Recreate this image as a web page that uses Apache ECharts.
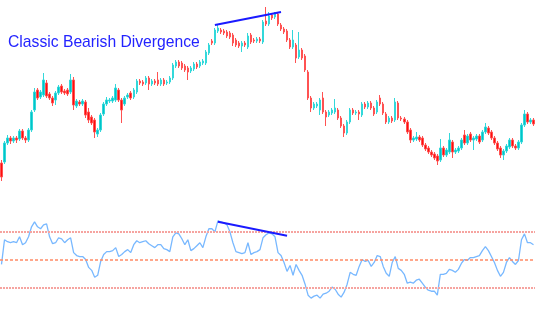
<!DOCTYPE html>
<html lang="en">
  <head>
    <meta charset="UTF-8" />
    <title>Classic Bearish Divergence</title>
    <style>
      * {
        margin: 0;
        padding: 0;
        box-sizing: border-box;
      }
      #main {
        width: 537px;
        height: 330px;
        background-color: #ffffff;
      }
    </style>
  </head>
  <body>
    <div id="main"></div>
    <script src="https://cdn.jsdelivr.net/npm/echarts@6/dist/echarts.min.js"></script>
    <script>
      const myChart = echarts.init(document.getElementById("main"));

      // candles: [open, close, low, high]
      const ohlc = [
        [37, 23, 19, 40], [38, 57, 36, 59], [57, 62, 55, 65], [62, 59, 56, 64], [59, 62, 57, 64],
        [62, 60, 57, 64], [61, 69, 59, 71], [69, 62, 60, 71], [62, 60, 57, 64], [60, 70, 58, 72],
        [70, 88, 68, 90], [90, 108, 88, 112], [110, 102, 100, 112], [103, 108, 101, 110], [105, 120, 103, 127],
        [117, 104, 102, 120], [106, 102, 100, 108], [102, 97, 94, 104], [100, 107, 95, 109], [107, 113, 105, 115],
        [114, 108, 106, 116], [109, 107, 105, 111], [110, 106, 104, 112], [108, 120, 106, 126], [120, 95, 90, 123],
        [94, 99, 92, 101], [98, 96, 94, 100], [96, 99, 94, 101], [98, 85, 82, 100], [88, 80, 77, 92],
        [83, 77, 75, 85], [80, 68, 62, 82], [66, 70, 63, 72], [70, 85, 68, 87], [86, 96, 84, 98],
        [96, 100, 94, 103], [99, 100, 97, 102], [99, 102, 97, 104], [100, 112, 98, 116], [110, 100, 98, 112],
        [100, 90, 77, 102], [96, 102, 94, 104], [103, 105, 101, 107], [107, 102, 100, 109], [103, 110, 101, 112],
        [108, 119, 106, 121], [119, 117, 115, 121], [118, 116, 114, 120], [117, 122, 115, 124], [122, 116, 110, 124],
        [116, 119, 114, 121], [119, 117, 115, 121], [120, 116, 114, 128], [116, 120, 114, 122], [120, 116, 114, 122],
        [117, 118, 115, 120], [118, 122, 116, 124], [122, 135, 120, 137], [134, 138, 132, 140], [138, 134, 132, 140],
        [137, 132, 130, 139], [134, 130, 128, 136], [132, 128, 120, 134], [129, 132, 127, 134], [131, 136, 129, 138],
        [136, 133, 131, 138], [134, 138, 132, 140], [137, 139, 135, 141], [137, 148, 135, 150], [147, 155, 145, 157],
        [159, 157, 155, 161], [157, 170, 155, 172], [169, 172, 167, 175], [170, 168, 166, 172], [169, 167, 165, 171],
        [168, 164, 162, 170], [167, 163, 161, 169], [165, 157, 154, 167], [160, 155, 153, 162], [157, 154, 152, 159],
        [154, 157, 148, 159], [157, 155, 153, 159], [153, 164, 151, 167], [165, 158, 156, 167], [160, 159, 157, 162],
        [159, 161, 157, 163], [161, 159, 157, 163], [158, 178, 156, 180], [179, 176, 174, 193], [176, 184, 174, 188],
        [185, 182, 180, 187], [183, 186, 181, 188], [186, 176, 174, 188], [175, 171, 169, 177], [171, 168, 166, 173],
        [169, 160, 158, 171], [160, 153, 151, 162], [153, 160, 151, 170], [155, 142, 137, 157], [143, 150, 141, 168],
        [150, 142, 140, 152], [144, 130, 128, 146], [128, 102, 100, 130], [102, 92, 88, 104], [92, 96, 90, 98],
        [94, 96, 92, 98], [90, 100, 85, 102], [102, 88, 86, 108], [88, 83, 74, 90], [85, 88, 83, 90],
        [87, 90, 85, 92], [88, 92, 86, 101], [90, 82, 80, 92], [82, 74, 72, 84], [74, 67, 63, 76],
        [67, 78, 65, 80], [78, 90, 76, 92], [90, 87, 85, 92], [87, 88, 85, 90], [88, 86, 80, 90],
        [85, 96, 83, 98], [96, 93, 91, 98], [93, 97, 91, 99], [97, 92, 90, 99], [92, 86, 84, 94],
        [88, 98, 86, 100], [102, 96, 94, 105], [96, 87, 85, 98], [86, 78, 76, 88], [78, 82, 76, 84],
        [82, 79, 77, 84], [80, 98, 78, 102], [97, 82, 80, 99], [82, 81, 79, 84], [81, 78, 76, 83],
        [78, 68, 66, 80], [70, 60, 57, 72], [60, 62, 58, 64], [61, 63, 59, 68], [63, 60, 58, 65],
        [62, 55, 53, 64], [55, 51, 49, 57], [52, 48, 46, 54], [48, 45, 43, 50], [46, 42, 40, 48],
        [44, 39, 35, 46], [40, 52, 38, 61], [52, 45, 43, 54], [45, 50, 43, 52], [48, 60, 46, 67],
        [58, 48, 42, 60], [48, 50, 46, 52], [49, 52, 47, 54], [52, 60, 50, 62], [65, 57, 55, 70],
        [57, 64, 55, 66], [66, 60, 58, 68], [60, 62, 50, 64], [61, 64, 59, 66], [64, 58, 56, 66],
        [60, 68, 58, 70], [68, 73, 66, 77], [72, 67, 65, 74], [68, 62, 60, 70], [62, 57, 55, 64],
        [57, 51, 49, 59], [52, 45, 42, 54], [45, 49, 40, 51], [49, 54, 47, 56], [53, 60, 51, 62],
        [60, 54, 52, 62], [54, 52, 50, 56], [52, 58, 50, 60], [58, 75, 56, 77], [75, 86, 73, 90],
        [86, 78, 76, 88], [78, 80, 76, 82], [80, 76, 74, 82]
      ];

      // oscillator, one value per candle
      const rsi = [
        46.5, 64.0, 62.6, 61.9, 62.6, 61.9, 66.1, 60.5, 61.9, 66.1,
        73.2, 76.7, 73.2, 71.8, 74.6, 75.3, 66.1, 61.2, 61.9, 65.4,
        64.7, 61.9, 64.0, 65.4, 54.9, 52.8, 52.1, 52.1, 50.0, 44.4,
        42.3, 37.4, 38.8, 48.6, 53.5, 55.6, 55.6, 56.3, 58.4, 52.1,
        53.5, 55.6, 57.0, 54.9, 60.5, 63.3, 61.9, 62.6, 63.3, 61.2,
        59.8, 58.4, 60.5, 60.5, 57.7, 57.0, 55.6, 66.1, 68.9, 68.2,
        64.7, 60.5, 64.0, 56.3, 57.7, 59.8, 61.9, 58.4, 66.1, 71.8,
        71.8, 69.6, 77.4, 76.7, 76.0, 74.6, 69.6, 61.9, 55.6, 54.9,
        54.2, 54.9, 61.9, 53.5, 54.9, 55.6, 57.0, 65.4, 67.5, 68.9,
        68.2, 66.1, 54.9, 52.8, 47.9, 41.6, 45.8, 38.8, 46.5, 42.3,
        38.8, 32.5, 24.7, 22.6, 24.0, 24.7, 22.6, 25.4, 26.1, 27.5,
        30.4, 28.9, 25.4, 23.3, 26.8, 32.5, 40.9, 39.5, 38.8, 45.1,
        50.0, 48.6, 49.3, 45.1, 47.9, 52.8, 52.1, 45.1, 40.2, 38.1,
        47.9, 52.1, 43.7, 42.3, 39.5, 33.2, 33.9, 33.2, 35.3, 36.0,
        33.2, 30.4, 28.2, 27.5, 27.5, 24.7, 39.5, 39.5, 40.2, 43.0,
        42.3, 40.9, 43.0, 47.2, 50.0, 49.3, 51.4, 51.4, 52.1, 52.8,
        56.3, 59.1, 56.3, 52.1, 47.9, 42.3, 38.1, 40.9, 47.9, 51.4,
        48.6, 46.5, 49.3, 64.0, 68.2, 61.9, 61.9, 60.5
      ];

      const rsiLevels = [70, 50, 30];
      // divergence lines: [candle index, value]
      const priceLine = [[71, 175], [93, 188]];
      const rsiLine = [[72, 76.7], [95, 66.8]];

      const categories = ohlc.map((_, i) => String(i));

      const levelStyle = { color: "#f6a4a0", width: 2, type: [2, 1], opacity: 1 };
      const midStyle = { color: "#ff8a66", width: 1.5, type: [3, 2], opacity: 1 };
      const trendStyle = { color: "#1a1aff", width: 2, type: "solid", opacity: 1 };

      const option = {
        animation: false,
        backgroundColor: "#ffffff",
        title: {
          text: "Classic Bearish Divergence",
          left: 8,
          top: 35,
          padding: 0,
          textStyle: {
            color: "#2323ff",
            fontSize: 15.7,
            fontWeight: "normal",
            fontFamily: "Liberation Sans, Arial, sans-serif",
          },
        },
        grid: [
          { left: 0, right: 2, top: 0, height: 200 },
          { left: 0, right: 2, top: 189, height: 142 },
        ],
        xAxis: [
          { type: "category", gridIndex: 0, data: categories, show: false },
          { type: "category", gridIndex: 1, data: categories, show: false },
        ],
        yAxis: [
          { type: "value", gridIndex: 0, min: 0, max: 200, show: false },
          { type: "value", gridIndex: 1, min: 0, max: 100, show: false },
        ],
        series: [
          {
            type: "candlestick",
            xAxisIndex: 0,
            yAxisIndex: 0,
            barWidth: 2,
            itemStyle: {
              color: "#00c4c8",
              color0: "#ff0d0d",
              borderColor: "#33d8da",
              borderColor0: "#ff5252",
              borderWidth: 1,
            },
            data: ohlc,
            markLine: {
              silent: true,
              symbol: "none",
              label: { show: false },
              emphasis: { disabled: true },
              lineStyle: trendStyle,
              data: [[{ coord: priceLine[0] }, { coord: priceLine[1] }]],
            },
          },
          {
            type: "line",
            xAxisIndex: 1,
            yAxisIndex: 1,
            data: rsi,
            showSymbol: false,
            z: 3,
            lineStyle: { color: "#78b8ff", width: 1.3 },
            markLine: {
              silent: true,
              symbol: "none",
              label: { show: false },
              emphasis: { disabled: true },
              lineStyle: levelStyle,
              data: rsiLevels
                .map((v) => ({ yAxis: v, lineStyle: v === 50 ? midStyle : levelStyle }))
                .concat([[{ coord: rsiLine[0], lineStyle: trendStyle }, { coord: rsiLine[1] }]]),
            },
          },
        ],
      };
      myChart.setOption(option);
    </script>
  </body>
</html>
